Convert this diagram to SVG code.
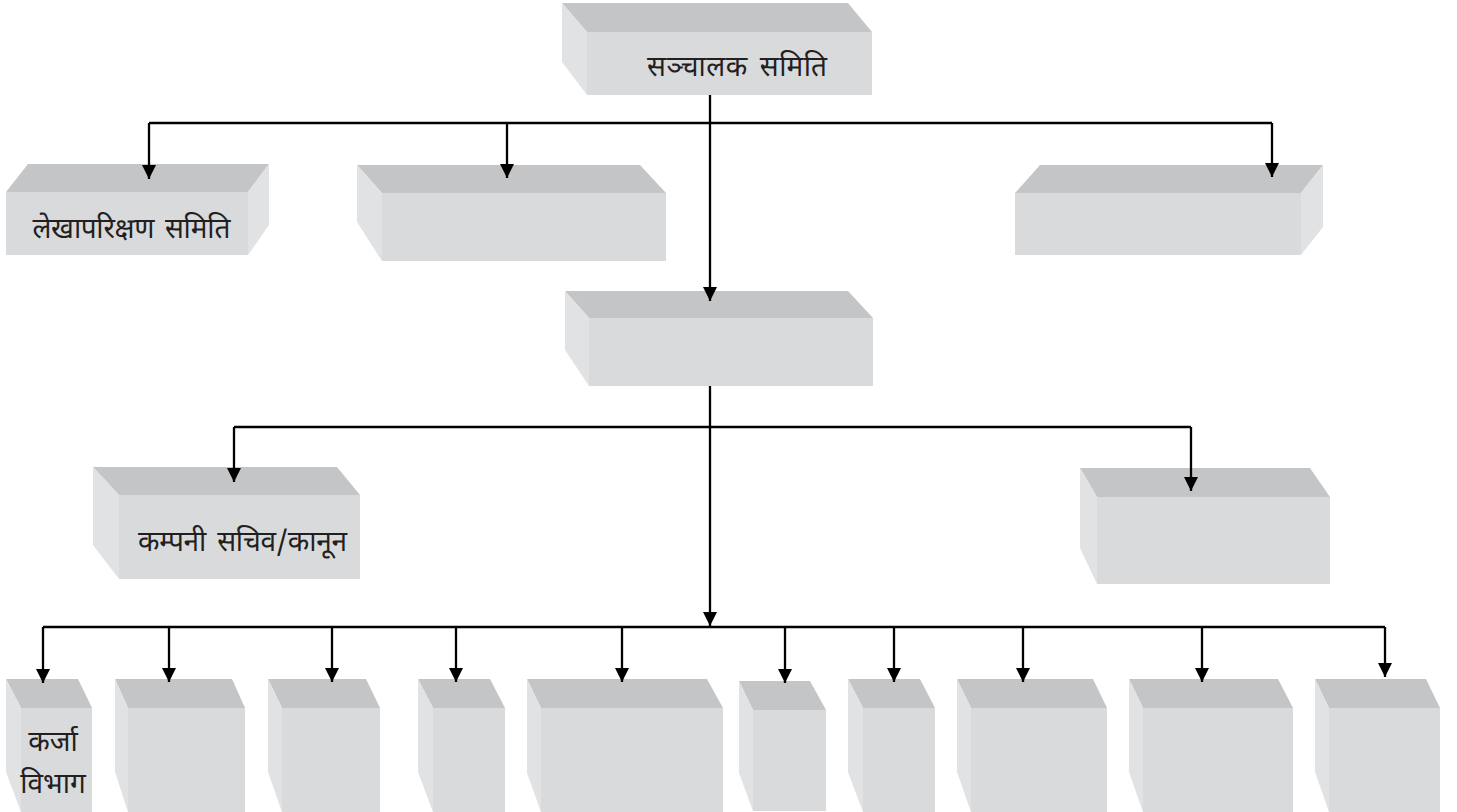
<svg xmlns="http://www.w3.org/2000/svg" width="1457" height="812" viewBox="0 0 1457 812">
<defs>
<style>
.top{fill:#c4c5c7}
.front{fill:#d9dadc}
.side{fill:#e1e2e4}
.lbl{font-family:"Noto Sans Devanagari","Lohit Devanagari","FreeSerif","Noto Sans",sans-serif;font-size:28px;fill:#231f20;word-spacing:4px}
.con{stroke:#000;stroke-width:2.3;fill:none}
</style>
<marker id="arr" markerUnits="userSpaceOnUse" markerWidth="14" markerHeight="16" refX="14" refY="7" orient="auto" viewBox="0 0 14 14">
<path d="M0,0 L14,7 L0,14 z" fill="#000"/>
</marker>
</defs>
<rect width="1457" height="812" fill="#fff"/>

<g id="n-board">
<polygon class="top" points="562,3 848,3 872,32 587,32"/>
<polygon class="side" points="562,3 587,32 587,95 562,62"/>
<rect class="front" x="587" y="32" width="285" height="63"/>
<text class="lbl" x="647" y="76" textLength="180" lengthAdjust="spacing">सञ्चालक समिति</text>
</g>

<g id="n-audit">
<polygon class="top" points="28,164 269,164 248,192 6,192"/>
<polygon class="side" points="248,192 269,164 269,225 248,255"/>
<rect class="front" x="6" y="192" width="242" height="63"/>
<text class="lbl" x="32" y="238" textLength="198" lengthAdjust="spacing">लेखापरिक्षण समिति</text>
</g>

<g id="n-b2">
<polygon class="top" points="357,165 640,165 666,193 382,193"/>
<polygon class="side" points="357,165 382,193 382,261 357,222"/>
<rect class="front" x="382" y="193" width="284" height="68"/>
</g>

<g id="n-b3">
<polygon class="top" points="1040,165 1323,165 1301,193 1015,193"/>
<polygon class="side" points="1301,193 1323,165 1323,227 1301,255"/>
<rect class="front" x="1015" y="193" width="286" height="62"/>
</g>

<g id="n-ceo">
<polygon class="top" points="565,291 848,291 873,318 589,318"/>
<polygon class="side" points="565,291 589,318 589,386 565,350"/>
<rect class="front" x="589" y="318" width="284" height="68"/>
</g>

<g id="n-secretary">
<polygon class="top" points="93,467 337,467 360,495 119,495"/>
<polygon class="side" points="93,467 119,495 119,579 93,545"/>
<rect class="front" x="119" y="495" width="241" height="84"/>
<text class="lbl" x="138" y="551" textLength="209" lengthAdjust="spacing">कम्पनी सचिव/कानून</text>
</g>

<g id="n-right">
<polygon class="top" points="1080,468 1310,468 1330,497 1097,497"/>
<polygon class="side" points="1080,468 1097,497 1097,584 1080,548"/>
<rect class="front" x="1097" y="497" width="233" height="87"/>
</g>

<g id="n-d1">
<polygon class="top" points="6,679 78,679 92,708 21,708"/>
<polygon class="side" points="6,679 21,708 21,812 6,772"/>
<rect class="front" x="21" y="708" width="71" height="104"/>
<text class="lbl" x="53" y="751" text-anchor="middle">कर्जा</text>
<text class="lbl" x="53" y="793" text-anchor="middle">विभाग</text>
</g>
<g id="n-d2">
<polygon class="top" points="115,679 232,679 245,708 128,708"/>
<polygon class="side" points="115,679 128,708 128,812 115,772"/>
<rect class="front" x="128" y="708" width="117" height="104"/>
</g>
<g id="n-d3">
<polygon class="top" points="268,679 366,679 380,708 282,708"/>
<polygon class="side" points="268,679 282,708 282,812 268,772"/>
<rect class="front" x="282" y="708" width="98" height="104"/>
</g>
<g id="n-d4">
<polygon class="top" points="418,679 490,679 505,708 433,708"/>
<polygon class="side" points="418,679 433,708 433,812 418,772"/>
<rect class="front" x="433" y="708" width="72" height="104"/>
</g>
<g id="n-d5">
<polygon class="top" points="527,679 707,679 723,708 541,708"/>
<polygon class="side" points="527,679 541,708 541,812 527,773"/>
<rect class="front" x="541" y="708" width="182" height="104"/>
</g>
<g id="n-d6">
<polygon class="top" points="739,681 810,681 826,710 753,710"/>
<polygon class="side" points="739,681 753,710 753,811 739,773"/>
<rect class="front" x="753" y="710" width="73" height="101"/>
</g>
<g id="n-d7">
<polygon class="top" points="848,679 920,679 935,708 863,708"/>
<polygon class="side" points="848,679 863,708 863,812 848,772"/>
<rect class="front" x="863" y="708" width="72" height="104"/>
</g>
<g id="n-d8">
<polygon class="top" points="957,679 1093,679 1107,708 971,708"/>
<polygon class="side" points="957,679 971,708 971,812 957,772"/>
<rect class="front" x="971" y="708" width="136" height="104"/>
</g>
<g id="n-d9">
<polygon class="top" points="1129,679 1278,679 1293,708 1143,708"/>
<polygon class="side" points="1129,679 1143,708 1143,812 1129,772"/>
<rect class="front" x="1143" y="708" width="150" height="104"/>
</g>
<g id="n-d10">
<polygon class="top" points="1315,679 1426,679 1440,708 1329,708"/>
<polygon class="side" points="1315,679 1329,708 1329,812 1315,772"/>
<rect class="front" x="1329" y="708" width="111" height="104"/>
</g>

<g id="connectors" class="con">
<line x1="710" y1="95" x2="710" y2="301" marker-end="url(#arr)"/>
<line x1="149" y1="123" x2="1272" y2="123"/>
<line x1="149" y1="123" x2="149" y2="179" marker-end="url(#arr)"/>
<line x1="507" y1="123" x2="507" y2="178" marker-end="url(#arr)"/>
<line x1="1272" y1="123" x2="1272" y2="177" marker-end="url(#arr)"/>
<line x1="710" y1="386" x2="710" y2="626" marker-end="url(#arr)"/>
<line x1="234" y1="427" x2="1191" y2="427"/>
<line x1="234" y1="427" x2="234" y2="482" marker-end="url(#arr)"/>
<line x1="1191" y1="427" x2="1191" y2="491" marker-end="url(#arr)"/>
<line x1="43" y1="627" x2="1385" y2="627"/>
<line x1="43" y1="627" x2="43" y2="683" marker-end="url(#arr)"/>
<line x1="169" y1="627" x2="169" y2="682" marker-end="url(#arr)"/>
<line x1="332" y1="627" x2="332" y2="682" marker-end="url(#arr)"/>
<line x1="456" y1="627" x2="456" y2="682" marker-end="url(#arr)"/>
<line x1="622" y1="627" x2="622" y2="682" marker-end="url(#arr)"/>
<line x1="785" y1="627" x2="785" y2="683" marker-end="url(#arr)"/>
<line x1="894" y1="627" x2="894" y2="682" marker-end="url(#arr)"/>
<line x1="1023" y1="627" x2="1023" y2="682" marker-end="url(#arr)"/>
<line x1="1202" y1="627" x2="1202" y2="682" marker-end="url(#arr)"/>
<line x1="1385" y1="627" x2="1385" y2="677" marker-end="url(#arr)"/>
</g>
</svg>
